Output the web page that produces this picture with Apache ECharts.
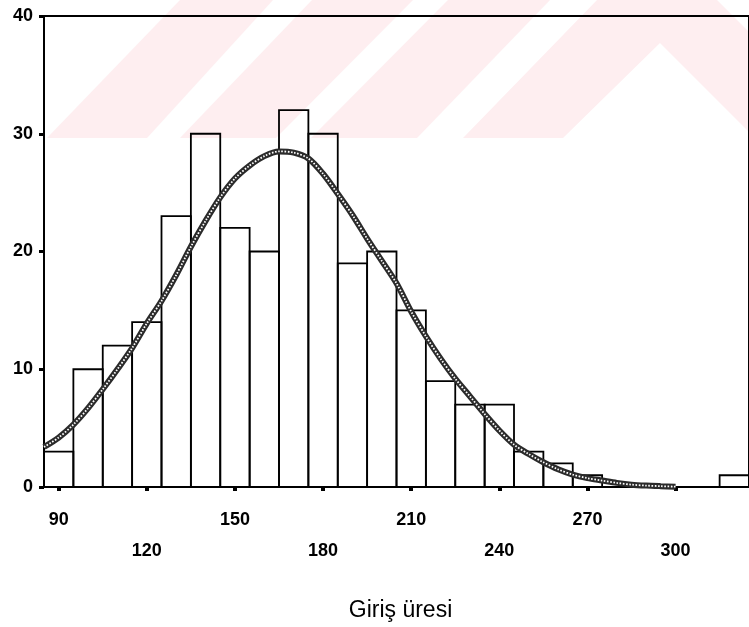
<!DOCTYPE html>
<html>
<head>
<meta charset="utf-8">
<script src="https://cdn.jsdelivr.net/npm/echarts@6/dist/echarts.min.js"></script>
<style>
  html, body { margin: 0; padding: 0; background: #fff; }
  #chart { width: 749px; height: 627px; }
</style>
</head>
<body>
<div id="chart"></div>
<script>
// Histogram of "Giriş üresi" with a fitted normal curve overlaid.
const binCenters = [90, 100, 110, 120, 130, 140, 150, 160, 170, 180, 190, 200,
                    210, 220, 230, 240, 250, 260, 270, 280, 290, 300, 310, 320];
const binCounts  = [3, 10, 12, 14, 23, 30, 22, 20, 32, 30, 19, 20,
                    15, 9, 7, 7, 3, 2, 1, 0, 0, 0, 0, 1];
const binWidth = 10;

// Normal curve, sampled every 5 units
const curveX = [85, 90, 95, 100, 105, 110, 115, 120, 125, 130, 135, 140, 145, 150,
                155, 160, 165, 170, 175, 180, 185, 190, 195, 200, 205, 210, 215, 220,
                225, 230, 235, 240, 245, 250, 255, 260, 265, 270, 275, 280, 285, 290, 295, 300];
const curveY = [3.4, 4.2, 5.3, 6.7, 8.3, 10.0, 11.8, 13.9, 15.8, 18.0, 20.4, 22.6, 24.6, 26.2,
                27.3, 28.1, 28.5, 28.4, 27.9, 26.6, 24.9, 23.1, 21.1, 19.2, 17.3, 14.9, 12.8, 10.9,
                9.2, 7.7, 6.2, 4.8, 3.6, 2.8, 2.1, 1.5, 1.05, 0.75, 0.55, 0.35, 0.2, 0.12, 0.07, 0.03];

const xTicks = [90, 120, 150, 180, 210, 240, 270, 300];
const yTicks = [0, 10, 20, 30, 40];
const xTitle = 'Giriş üresi';

const barData = binCenters.map((c, i) => [c, binCounts[i]]);
const curveData = curveX.map((x, i) => [x, curveY[i]]);

const FONT = '"Liberation Sans", Arial, sans-serif';
const pink = '#feeef0';

const chart = echarts.init(document.getElementById('chart'), null, { renderer: 'canvas' });

chart.setOption({
  animation: false,
  backgroundColor: '#fff',
  // faint diagonal-stripe watermark in the upper band
  graphic: [
    { type: 'polygon', z: -5, silent: true,
      shape: { points: [[47, 138], [147, 138], [273, 0], [180, 0]] }, style: { fill: pink } },
    { type: 'polygon', z: -5, silent: true,
      shape: { points: [[180, 138], [276, 138], [413, 0], [312, 0]] }, style: { fill: pink } },
    { type: 'polygon', z: -5, silent: true,
      shape: { points: [[311, 138], [417, 138], [550, 0], [448, 0]] }, style: { fill: pink } },
    { type: 'polygon', z: -5, silent: true,
      shape: { points: [[463, 138], [563, 138], [660, 43], [755, 138], [760, 138], [760, 43], [717, 0], [597, 0]] },
      style: { fill: pink } }
  ],
  grid: {
    left: 44, top: 16, width: 716, height: 481,
    show: true, borderColor: '#000', borderWidth: 2, backgroundColor: 'transparent'
  },
  xAxis: {
    type: 'value', min: 85, max: 325,
    name: xTitle, nameLocation: 'middle', nameGap: 112,
    nameTextStyle: { fontFamily: FONT, fontSize: 23, color: '#000', padding: [0, 0, 0, 8] },
    axisLine: { show: true, lineStyle: { color: '#000', width: 2 } },
    axisTick: { show: true, customValues: xTicks, inside: false, length: 4, lineStyle: { color: '#000', width: 4 } },
    axisLabel: {
      customValues: xTicks,
      margin: 17,
      fontFamily: FONT, fontSize: 18, fontWeight: 'bold', color: '#000',
      lineHeight: 31.5,
      verticalAlign: 'top',
      formatter: (v) => (xTicks.indexOf(v) % 2 === 1 ? '\n' + v : String(v))
    },
    splitLine: { show: false }
  },
  yAxis: {
    type: 'value', min: 0, max: 40, interval: 10,
    axisLine: { show: true, lineStyle: { color: '#000', width: 2 } },
    axisTick: { show: true, inside: false, length: 5, lineStyle: { color: '#000', width: 3 } },
    axisLabel: { margin: 11, fontFamily: FONT, fontSize: 18, fontWeight: 'bold', color: '#000',
                 formatter: (v) => (yTicks.indexOf(v) >= 0 ? String(v) : '') },
    splitLine: { show: false }
  },
  series: [
    {
      type: 'custom',
      z: 2,
      data: barData,
      renderItem: function (params, api) {
        const c = api.value(0), n = api.value(1);
        if (!n) return null;
        const p0 = api.coord([c - binWidth / 2, n]);
        const p1 = api.coord([c + binWidth / 2, 0]);
        return {
          type: 'rect',
          shape: { x: p0[0], y: p0[1], width: p1[0] - p0[0], height: p1[1] - p0[1] },
          style: { fill: 'rgba(0,0,0,0)', stroke: '#000', lineWidth: 1.8 }
        };
      }
    },
    {
      type: 'line', z: 3, data: curveData, smooth: 0.3, symbol: 'none',
      lineStyle: { color: '#2b2b2b', width: 6 }
    },
    {
      type: 'line', z: 4, data: curveData, smooth: 0.3, symbol: 'none',
      lineStyle: { color: '#ffffff', width: 1.8, type: [1.6, 1.6] }
    }
  ]
});
</script>
</body>
</html>
